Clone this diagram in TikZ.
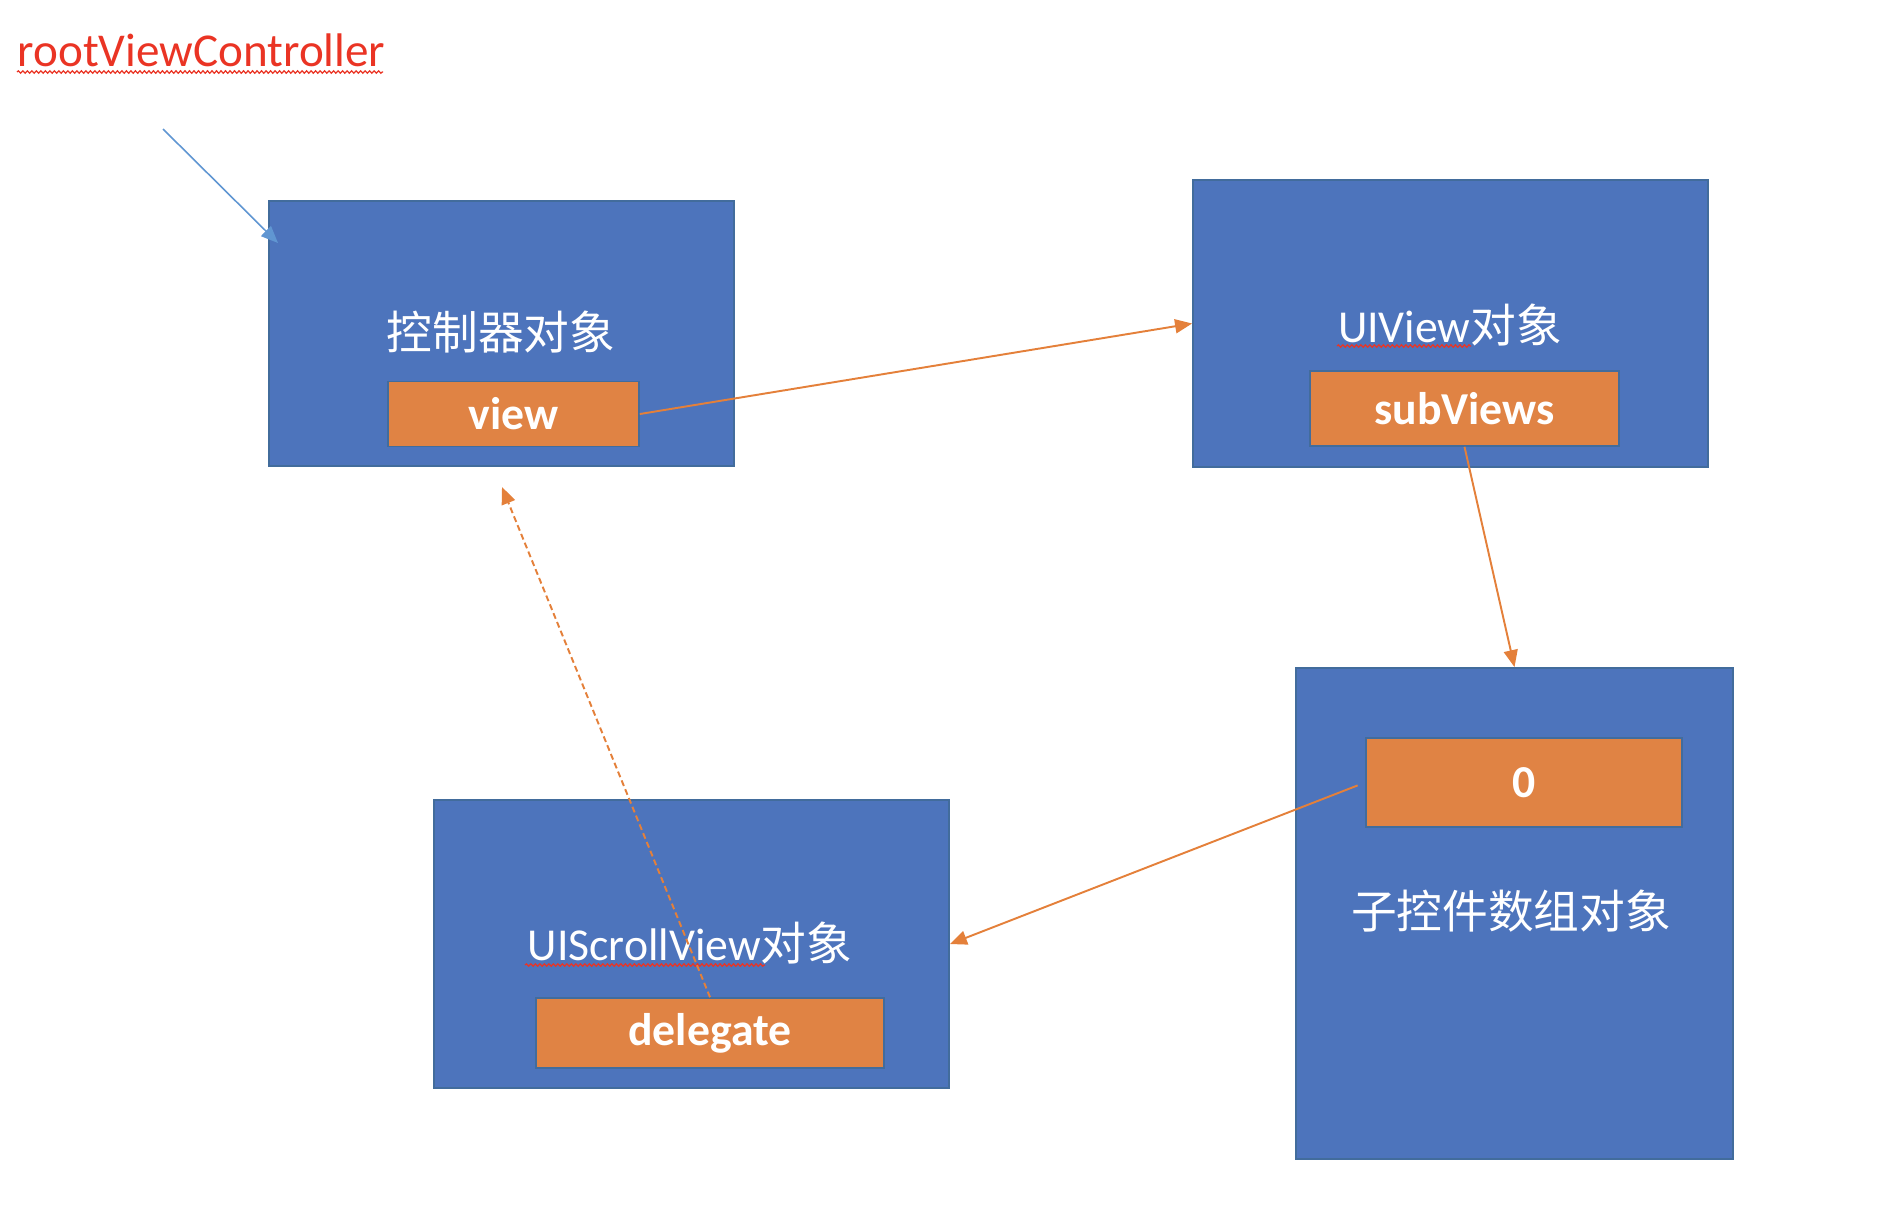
\documentclass[tikz,border=0pt]{standalone}
\usepackage{fontspec}
\setmainfont{Carlito}
\newfontfamily\cjk{Noto Sans CJK SC}
\usetikzlibrary{arrows.meta,decorations.pathmorphing}
\definecolor{objblue}{RGB}{77,116,188}
\definecolor{objedge}{RGB}{66,108,156}
\definecolor{fieldorange}{RGB}{224,131,68}
\definecolor{linkorange}{RGB}{228,128,58}
\definecolor{rootblue}{RGB}{96,150,210}
\definecolor{rootred}{RGB}{234,52,36}

\begin{document}
\begin{tikzpicture}[x=0.01cm,y=-0.01cm,
    obj/.style={draw=objedge,line width=0.45pt,fill=objblue,inner sep=0pt},
    field/.style={draw=objedge,line width=0.45pt,fill=fieldorange,inner sep=0pt,text=white,font=\fontsize{13pt}{15pt}\selectfont\bfseries},
    title/.style={text=white,inner sep=0pt,font=\fontsize{13pt}{15pt}\selectfont},
    link/.style={linkorange,line width=0.55pt,-{Triangle[length=0.17cm,width=0.14cm]}},
    squiggle/.style={rootred,line width=0.35pt,decorate,decoration={snake,amplitude=0.012cm,segment length=0.045cm}}]
    \useasboundingbox (0,0) rectangle (1890,1226);
    % label and its pointer
    \node[anchor=base west,inner sep=0pt,text=rootred,font=\fontsize{13.4pt}{15pt}\selectfont] (rootlbl) at (17,66) {rootViewController};
    \draw[squiggle] (17,72)--(383,72);
    \coordinate (rootstart) at (163,129);
    \coordinate (roottip) at (278,243);
    % objects
    \node[obj,minimum width=4.65cm,minimum height=2.65cm] (ctrl) at (501.5,333.5) {};
    \node[obj,minimum width=5.15cm,minimum height=2.87cm] (uiview) at (1450.5,323.5) {};
    \node[obj,minimum width=5.15cm,minimum height=2.88cm] (scroll) at (691.5,944) {};
    \node[obj,minimum width=4.37cm,minimum height=4.91cm] (subarr) at (1514.5,913.5) {};
    \coordinate (ctrlbelow) at (502,487);
    % titles
    \node[title] (ctrllbl) at (501,332) {\cjk 控制器对象};
    \node[title,anchor=base] (uiviewlbl) at (1450,342) {UIView{\cjk 对象}};
    \draw[squiggle] (1337,346)--(1471,346);
    \node[title,anchor=base] (scrolllbl) at (690,960) {UIScrollView{\cjk 对象}};
    \draw[squiggle] (525,965)--(765,965);
    \node[title] (subarrlbl) at (1511,911) {\cjk 子控件数组对象};
    % fields
    \node[field,minimum width=2.51cm,minimum height=0.65cm] (view) at (513.5,414) {view};
    \node[field,minimum width=3.09cm,minimum height=0.75cm] (subviews) at (1464.5,408.5) {subViews};
    \node[field,minimum width=3.48cm,minimum height=0.70cm] (delegate) at (710,1033) {delegate};
    \node[field,minimum width=3.16cm,minimum height=0.89cm] (zero) at (1524,782.5) {0};
    % pointers
    \draw[rootblue,line width=0.45pt,-{Triangle[length=0.17cm,width=0.14cm]}] (rootstart)--(roottip);
    \draw[link] (view.east)--(uiview.west);
    \draw[link] (subviews.south)--(subarr.north);
    \draw[link,shorten <=0.08cm] (zero.west)--(scroll.east);
    \draw[link,dash pattern=on 0.06cm off 0.035cm] (delegate.north)--(ctrlbelow);
\end{tikzpicture}
\end{document}
